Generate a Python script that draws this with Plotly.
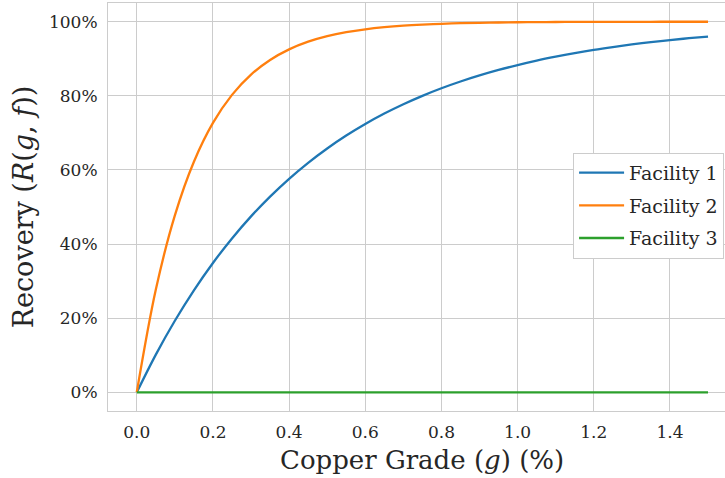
import plotly.graph_objects as go

grade = [0.00, 0.05, 0.10, 0.15, 0.20, 0.25, 0.30, 0.35, 0.40, 0.45, 0.50,
         0.55, 0.60, 0.65, 0.70, 0.75, 0.80, 0.85, 0.90, 0.95, 1.00,
         1.05, 1.10, 1.15, 1.20, 1.25, 1.30, 1.35, 1.40, 1.45, 1.50]

facility1 = [0.0, 0.1017, 0.1931, 0.2752, 0.3490, 0.4152, 0.4747, 0.5281, 0.5761, 0.6193, 0.6580,
             0.6928, 0.7240, 0.7521, 0.7773, 0.8000, 0.8204, 0.8386, 0.8550, 0.8698, 0.8830,
             0.8950, 0.9056, 0.9152, 0.9239, 0.9316, 0.9386, 0.9448, 0.9504, 0.9555, 0.9600]

facility2 = [0.0, 0.2771, 0.4774, 0.6222, 0.7269, 0.8026, 0.8573, 0.8968, 0.9254, 0.9461, 0.9610,
             0.9718, 0.9796, 0.9853, 0.9894, 0.9923, 0.9944, 0.9960, 0.9971, 0.9979, 0.9985,
             0.9989, 0.9992, 0.9994, 0.9996, 0.9997, 0.9998, 0.9998, 0.9999, 0.9999, 0.9999]

facility3 = [0.0] * len(grade)

series_names = ["Facility 1", "Facility 2", "Facility 3"]
series_colors = ["#1f77b4", "#ff7f0e", "#2ca02c"]

x_ticks = [0.0, 0.2, 0.4, 0.6, 0.8, 1.0, 1.2, 1.4]
x_tick_labels = ["0.0", "0.2", "0.4", "0.6", "0.8", "1.0", "1.2", "1.4"]
y_ticks = [0.0, 0.2, 0.4, 0.6, 0.8, 1.0]
y_tick_labels = ["0%", "20%", "40%", "60%", "80%", "100%"]

FONT = "DejaVu Serif"
TXT = "#262626"
GRID = "#cccccc"

fig = go.Figure()
for name, ys, col in zip(series_names, [facility1, facility2, facility3], series_colors):
    fig.add_trace(go.Scatter(x=grade, y=ys, mode="lines", name=name, legendgroup=name,
                             line=dict(color=col, width=2.3, shape="spline")))

fig.update_layout(
    width=725, height=478,
    margin=dict(l=108, r=0, t=3, b=67),
    paper_bgcolor="white", plot_bgcolor="white",
    font=dict(family=FONT, color=TXT, size=17),
    showlegend=True,
    legend=dict(x=0.9985, xanchor="right", y=0.633, yanchor="top",
                bgcolor="white", bordercolor=GRID, borderwidth=1,
                font=dict(family=FONT, size=19, color=TXT),
                tracegroupgap=5, itemwidth=45),
    xaxis=dict(range=[-0.0756, 1.5446], tickvals=x_ticks, ticktext=x_tick_labels,
               showgrid=True, gridcolor=GRID, gridwidth=1, zeroline=False,
               showline=True, linecolor=GRID, linewidth=1, mirror=True,
               ticks="", ticklabelstandoff=6,
               tickfont=dict(family=FONT, size=17, color=TXT)),
    yaxis=dict(range=[-0.0505, 1.0505], tickvals=y_ticks, ticktext=y_tick_labels,
               showgrid=True, gridcolor=GRID, gridwidth=1, zeroline=False,
               showline=True, linecolor=GRID, linewidth=1, mirror=False,
               ticks="", ticklabelstandoff=6,
               tickfont=dict(family=FONT, size=17, color=TXT),
               title=dict(text="Recovery (<i>R</i>(<i>g</i>, <i>f</i>))",
                          font=dict(family=FONT, size=27, color=TXT), standoff=7)),
)

fig.add_annotation(text="Copper Grade (<i>g</i>) (%)", xref="paper", yref="paper",
                   x=0.509, y=-0.078, xanchor="center", yanchor="top", showarrow=False,
                   font=dict(family=FONT, size=26, color=TXT))

fig.write_html("out.html", config={"displayModeBar": False},
               post_script="document.body.style.margin='0';")
